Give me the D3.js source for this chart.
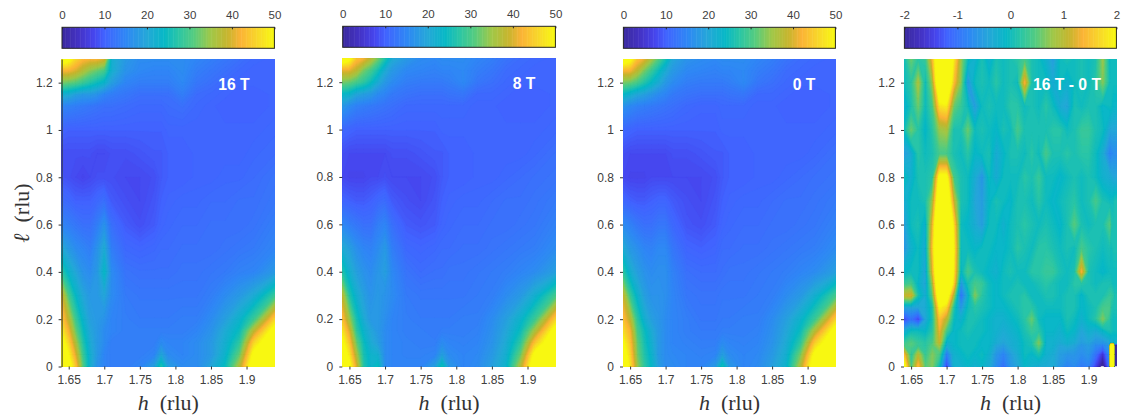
<!DOCTYPE html>
<html>
<head>
<meta charset="utf-8">
<script src="https://cdn.jsdelivr.net/npm/d3@7"></script>
<style>
  body { margin: 0; background: #fff; }
  svg { display: block; }
  text { font-family: "Liberation Sans", Arial, sans-serif; }
  .tick text { font-size: 12px; fill: #404040; }
  .cb .tick text { font-size: 11.5px; }
  .axlabel { font-family: "Liberation Serif", serif; font-size: 22px; fill: #333; }
  .field { font-size: 15.7px; font-weight: bold; fill: #fff; }
</style>
</head>
<body>
<div id="chart"></div>
<script>
const hTicks = [1.65, 1.7, 1.75, 1.8, 1.85, 1.9];
const lTicks = [0, 0.2, 0.4, 0.6, 0.8, 1, 1.2];
const cbTicks = [0, 10, 20, 30, 40, 50];
const cbDiffTicks = [-2, -1, 0, 1, 2];

// measurement grid of the three field maps
const hGrid = [1.64, 1.65, 1.66, 1.67, 1.68, 1.69, 1.7, 1.71, 1.73, 1.75, 1.77, 1.78, 1.79, 1.81, 1.83, 1.85, 1.87, 1.89, 1.91, 1.94];
const lGrid = [0, 0.05, 0.1, 0.15, 0.2, 0.3, 0.4, 0.5, 0.6, 0.7, 0.8, 0.9, 1, 1.1, 1.15, 1.2, 1.25, 1.3];

// rows go from l = 0 up to l = 1.3
const map16T = [
  [58,54,44,31,22,17,15,14,14,15,19,27,19,16,16,20,25,37,56,60],
  [56,50,40,29,22,18,15,14,14,14,15,20,16,15,16,18,23,32,52,60],
  [53,46,36,27,21,18,16,14,14,14,14,16,15,15,16,18,22,28,46,58],
  [49,42,32,25,20,18,16,15,14,14,14,14,14,14,15,17,21,25,38,54],
  [45,38,29,23,19,18,17,15,14,13.5,13.5,13.5,13.5,14,14,16,19,23,29,46],
  [40,30,24,20,18,18,20,16,13.5,13,13,13,13,13,13,14,16,18,21,29],
  [28,23,20,17,16,18,24,16,12.5,12,12,12,12,12.5,12.5,13,13.5,14.5,15,18],
  [21,18,16,15,14,17,21,14,11,10.5,11,11.5,11.5,12,12,12,12.5,13,13.5,15],
  [15,14,13,12,12,14,17,12,9.5,8.5,9.5,10.5,11,11.5,11.5,12,12,12,12.5,14],
  [11.5,11,10,10,10,11,12,9.5,8.5,8,9,10,10.5,11,11,11.5,11.5,12,12,13],
  [9,8.5,8,7.5,8,8.5,8.5,8.5,8,8,8.5,9.5,10,10,10.5,10.5,11,11,11.5,12.5],
  [8.5,8.5,8.5,8.5,8.5,8,8,8.5,8.5,9,9.5,9.5,10,10,10.5,10.5,10.5,10.5,11,11.5],
  [10.5,10,10,10,10,10,10,10,10,10,10,10,10.5,10.5,10.5,10.5,10.5,10.5,10.5,11],
  [15,14.5,14,13.5,13,12.5,12,12,11.5,11,11,11,11.5,12,11,10.5,10,10,10,10.5],
  [22,21,19,18,18,17,15,14,13,12,12,12,12,14,11.5,11,10.5,10,10,10.5],
  [33,32,31,29,27,25,23,19,15,14,14,14,14,15.5,13,12,11,10.5,10.5,10.5],
  [42,42,40,37,34,32,30,22,17,15.5,15,15,15,16,14,13,12,11,10.5,10.5],
  [56,52,46,43,42,42,40,22,18,16,16,16,16,16,15,14,13,12,11,10.5]
];

const map8T = [
  [58,52,40,27,23,25,16,15,15,15,19,26,18,15,16,19,23,37,56,60],
  [55,48,36,26,23,22,16,15,14.5,14.5,15,19,16,15,15.5,18,22,32,52,60],
  [52,44,32,25,21,19,16,15,14.5,14,14,16,15,14.5,15,17,21,28,44,58],
  [48,40,28,23,20,18,16,15,14,14,13.5,14,14,14,14.5,16.5,20,25,36,54],
  [44,35,26,21,18,18,16.5,15,14,13.5,13.5,13.5,13.5,14,14,16,19,23,29,46],
  [38,27,22,19,17,18,17,16,13.5,13,13,13,13,13,13.5,14,16,18,22,30],
  [27,22,19,17,16,17.5,19,15.5,12.5,11.5,12,12,12.5,12.5,13,13.5,14,15,16,19],
  [21,19,16.5,15,14.5,16,18,14,11,10.5,11,11.5,11.5,12,12,12.5,13,13.5,14,16],
  [15.5,14,13,12,12,14,15,12,9.5,9,9.5,10.5,11,11.5,11.5,12,12,12.5,13,14.5],
  [10.5,10,9.5,9.5,10,11,11.5,9.5,8.5,8,9,10,10.5,11,11,11.5,12,12,12.5,13.5],
  [8,7.5,7.5,7.5,8,8,8.5,8,8,8,8.5,9.5,10,10,10.5,10.5,11,11.5,12,12.5],
  [8.5,8,8,8,8,8,8,8.5,8.5,9,9.5,9.5,10,10,10.5,10.5,10.5,10.5,11,12],
  [11,10.5,10,10,10,10,10,10,10,10,10,10.5,10.5,10.5,10.5,10.5,10.5,10.5,10.5,11],
  [18,16,14.5,14,13.5,13,12.5,12,11,11,11,11,11,11,10.5,10.5,10,10,10,10.5],
  [24,23,20,19,18,16,15,13.5,12.5,12,12,12,12.5,13,11,11,10.5,10,10,10.5],
  [33,32,30,28,25,21,18,16,14,13.5,13.5,13.5,14,15.5,13,12,11,10.5,10.5,10.5],
  [41,41,38,33,30,26,21,18,15.5,15,14.5,15,15,15.5,14,13,11.5,11,10.5,10.5],
  [56,52,44,42,38,33,27,21,18,16,15.5,16,16,16,15,14,12.5,11.5,11,10.5]
];

const map0T = [
  [58,48,35,28,24,19,16,16,15,15,18,26,18,15,16,19,23,37,56,60],
  [55,46,33,27,23,18,16,15.5,15,14.5,15,19,16,15,15.5,18,22,33,52,60],
  [51,44,32,26,22,18,16,15,14.5,14,14,16,15,14.5,15,17,21,28,45,58],
  [47,42,30,25,21,18,16,15,14,13.5,13.5,14,14,14,14.5,16.5,20,25,37,54],
  [44,38,28,22,19,17.5,16,15,14,13,13,13.5,13.5,14,14,16,19,23,29,46],
  [39,29,23,19,17,17,16.5,15,13,12.5,12.5,13,13,13,13.5,14,16,18,22,30],
  [28,22,19,17,16,16.5,16.5,14.5,12,11.5,11.5,12,12.5,12.5,13,13.5,14,15,16,19],
  [21,18,16.5,15,14.5,15.5,15.5,13,10.5,10,10.5,11.5,11.5,12,12,12.5,13,13.5,14,16],
  [16,14.5,13,12,12,13,13,11,9,8.5,9.5,10.5,11,11.5,11.5,12,12,12.5,13,14.5],
  [11,10,9.5,9.5,10,10.5,10.5,9.5,8.5,8,9,10,10.5,11,11,11.5,12,12,12.5,13.5],
  [8,7.5,7.5,7.5,8,8,8,8,8,8,8.5,9.5,10,10,10.5,10.5,11,11.5,12,12.5],
  [8.5,8,8,8,8,8,8,8.5,8.5,9,9.5,9.5,10,10,10.5,10.5,10.5,10.5,11,12],
  [11,10.5,10,10,10,10,10,10,10,10,10,10.5,10.5,10.5,10.5,10.5,10.5,10.5,10.5,11],
  [17,15.5,14.5,14,13.5,13,12.5,12,11,10.5,10.5,11,11,11,10.5,10.5,10,10,10,10.5],
  [24,22,20,19,17.5,16,15,13.5,12.5,12,12,12,12.5,13,11,11,10.5,10,10,10.5],
  [33,32,30,27,24,21,18,16,14,13.5,13.5,13.5,14,15.5,13,12,11,10.5,10.5,10.5],
  [42,42,38,33,29,25,21,18,15.5,15,14.5,15,15,15.5,14,13,11.5,11,10.5,10.5],
  [56,52,44,41,36,31,26,20,17,16,15.5,16,16,16,15,14,12.5,11.5,11,10.5]
];

// difference map has a finer h grid and a sharp artefact at the right edge
const hGridDiff = [1.64,1.65,1.66,1.67,1.68,1.69,1.7,1.71,1.72,1.73,1.74,1.75,1.76,1.77,1.78,1.79,1.8,1.81,1.82,1.83,1.84,1.85,1.86,1.87,1.88,1.89,1.9,1.91,1.92,1.93,1.931,1.935,1.936,1.94];
const lGridDiff = [0, 0.05, 0.09, 0.1, 0.15, 0.2, 0.25, 0.3, 0.35, 0.4, 0.5, 0.6, 0.7, 0.8, 0.9, 1, 1.1, 1.2, 1.3];

const mapDiff = [
  [2.4,.4,1.5,.5,.7,0,-1.4,-.2,-.2,-.1, -.2,-.1,-.3,-.7,-1,-.6,-.4,-.1,-.2,-.3, -.3,-.3,-.6,-.8,-.7,-.9,-.8,-1.4,-2.2,-.8, 2.6,2.6,-2.6,-2.6],
  [1.5,.2,1,.3,.7,.4,-.9,-.2,-.1,0, -.1,0,-.2,-.6,-.8,-.5,-.3,0,-.1,.1, -.2,-.3,-.5,-.6,-.6,-.7,-.6,-1,-1.6,-.6, 2.6,2.6,-2.6,-2.6],
  [.4,.5,.3,.2,.5,.9,-.3,-.1,0,0, 0,-.1,-.1,-.4,-.5,-.3,-.2,0,.1,.6, -.2,-.2,-.4,-.3,-.4,-.6,-.5,-.7,-.8,-.5, 2.6,2.6,-2.6,-2.6],
  [.3,.5,.3,.2,.4,1.1,-.2,-.1,0,0, 0,-.1,-.1,-.3,-.4,-.3,-.2,0,.1,.7, -.2,-.2,-.3,-.2,-.3,-.5,-.4,-.6,-.6,-.4, -.3,-.2,-.2,-.2],
  [-.3,0,0,-.1,.2,1.3,.4,-.1,0,.1, 0,0,-.1,-.2,-.3,-.2,-.1,.1,.3,.2, -.1,-.1,-.2,0,-.1,-.4,-.2,-.3,-.1,.1, .1,0,0,0],
  [-1.4,-1,-1.4,-.4,.1,1.5,1,0,-.2,.1, .1,0,-.1,-.2,-.2,-.1,0,.2,.6,0, -.1,-.1,-.1,.1,0,-.2,0,.2,.7,.2, .1,0,0,0],
  [-.4,-.4,-.4,-.3,.1,2,1.7,.2,-.6,0, .2,.1,0,-.1,-.1,0,.1,.2,.2,0, 0,0,0,.1,.1,-.1,0,.1,.4,.4, .2,.1,.1,.1],
  [1.1,1.2,.1,-.3,.5,2.7,2.5,.9,-1,-.2, .7,.2,0,-.1,0,.1,.1,.2,0,0, .1,.1,0,.1,.1,-.1,.1,.1,.1,.3, .3,.2,.1,.1],
  [.3,.4,-.1,-.4,.8,3.2,3.2,1.7,-.6,.1, .4,.3,0,-.1,0,0,.1,0,0,.1, .2,.1,0,0,.2,.2,.1,0,.1,.1, .1,0,0,0],
  [-.1,0,0,-.4,1.2,3.4,3.4,1.9,-.1,.4, .1,0,-.1,-.2,0,.1,0,0,.2,.2, .3,.3,.1,0,.1,1.4,.1,0,-.1,0, 0,0,0,0],
  [-.6,-.2,0,-.3,1.5,3.6,3.6,2,0,0, -.1,0,0,-.1,-.1,0,.2,.1,0,.2, .2,.1,0,.1,0,.4,.2,.1,0,.1, 0,.1,.1,.1],
  [-.5,0,.1,-.2,1.3,3.4,3.4,1.8,0,-.1, -.3,-.5,0,0,-.2,0,.1,.2,.1,0, .1,0,-.1,.1,.5,.1,0,.1,.1,.5, .2,.1,.1,.1],
  [-.3,0,0,.1,.8,2.8,2.8,1.1,.1,0, -.4,-.5,-.1,.1,0,-.1,.1,.1,0,.2, 0,-.1,0,.1,.2,0,.1,.4,.1,0, 0,0,.1,.1],
  [0,-.2,.1,.1,.2,2.2,2.2,.4,.1,0, -.3,-.6,0,-.3,0,0,0,.2,.1,.3, 0,0,-.1,0,.1,0,.1,0,-.2,-.3, -.3,-.4,-.4,-.4],
  [-.5,-.3,.2,0,.1,.4,.4,.1,0,.2, -.1,0,.1,-.3,-.1,.1,.1,0,.2,0, .4,.1,.1,.2,.1,.2,.2,0,-.3,-.8, -.8,-.7,-.7,-.7],
  [0,.6,.2,-.1,.2,.8,.9,.1,.1,.6, 0,.1,0,-.1,.1,0,.4,.1,.1,.1, .1,.2,.2,0,.1,.3,.3,.1,0,-.4, -.4,-.4,-.4,-.4],
  [-.2,.1,.6,0,.4,1.8,1.9,.6,.3,0, -.5,0,.1,0,0,.2,.2,0,.1,0, .2,0,-.3,-.4,.1,0,.1,.1,-.1,0, 0,-.1,-.1,-.1],
  [0,.2,.9,0,.8,3,3,1.5,.7,-.6, 0,.1,0,.2,0,.1,0,1.4,.1,0, 0,-.3,0,-.2,0,.1,0,.2,.7,0, 0,0,0,0],
  [0,.6,.2,.3,1.4,3,3,1.9,.8,0, -.2,.1,-.2,.1,0,.1,.2,.4,.1,0, -.2,-.5,0,.1,0,.1,0,.1,.8,-.1, 0,0,0,0]
];

const panels = [
  { name: "16 T", left: 61.6, right: 275, top: 59, bottom: 366.5, cbTop: 27.3, labelX: 234, labelY: 84, min: 0, max: 50, ticks: cbTicks, hs: hGrid, ls: lGrid, z: map16T },
  { name: "8 T", left: 342.3, right: 556, top: 58.5, bottom: 366.5, cbTop: 26.3, labelX: 524, labelY: 83, min: 0, max: 50, ticks: cbTicks, hs: hGrid, ls: lGrid, z: map8T },
  { name: "0 T", left: 623, right: 836, top: 59, bottom: 366.5, cbTop: 27.3, labelX: 804, labelY: 84, min: 0, max: 50, ticks: cbTicks, hs: hGrid, ls: lGrid, z: map0T },
  { name: "16 T - 0 T", left: 904, right: 1117, top: 59, bottom: 366.5, cbTop: 27.3, labelX: 1067, labelY: 84, min: -2, max: 2, ticks: cbDiffTicks, hs: hGridDiff, ls: lGridDiff, z: mapDiff }
];

// colormap
const cmapStops = [0, 0.08, 0.15, 0.2, 0.3, 0.4, 0.48, 0.55, 0.62, 0.7, 0.78, 0.84, 0.92, 1];
const cmapColors = ["#3b2a9e", "#4433c6", "#4646ee", "#4163ff", "#2f87f5", "#25a8d8", "#07b8c6", "#2cc6a5", "#55cc80", "#a0c848", "#c8b52e", "#fbb336", "#f8d82a", "#f8fa10"];
const levels = 128;

const svg = d3.select("#chart").append("svg").attr("width", 1123).attr("height", 419);
const defs = svg.append("defs");

panels.forEach((p, pi) => {
  const x = d3.scaleLinear().domain([1.64, 1.94]).range([p.left, p.right]);
  const y = d3.scaleLinear().domain([0, 1.3]).range([p.bottom, p.top]);
  const tScale = d3.scaleLinear().domain(cmapStops.map(s => p.min + s * (p.max - p.min))).range(cmapColors).clamp(true);

  // contour grid cell centres sit on i + 0.5
  const gx = d3.scaleLinear().domain(p.hs.map((_, i) => i + 0.5)).range(p.hs);
  const gy = d3.scaleLinear().domain(p.ls.map((_, i) => i + 0.5)).range(p.ls);
  const nx = p.hs.length, ny = p.ls.length;
  const thresholds = d3.range(levels).map(i => p.min + (i + 0.5) * (p.max - p.min) / levels);
  const contours = d3.contours().size([nx, ny]).thresholds(thresholds)(p.z.flat());
  const path = d3.geoPath(d3.geoTransform({
    point(a, b) { this.stream.point(x(gx(a)), y(gy(b))); }
  }));

  defs.append("clipPath").attr("id", `clip${pi}`).append("rect")
    .attr("x", p.left).attr("y", p.top)
    .attr("width", p.right - p.left).attr("height", p.bottom - p.top);

  const plot = svg.append("g").attr("clip-path", `url(#clip${pi})`);
  plot.append("rect")
    .attr("x", p.left).attr("y", p.top)
    .attr("width", p.right - p.left).attr("height", p.bottom - p.top)
    .attr("fill", tScale(p.min));
  plot.selectAll("path")
    .data(contours)
    .join("path")
    .attr("d", path)
    .attr("fill", d => tScale(d.value))
    .attr("stroke", d => tScale(d.value))
    .attr("stroke-width", 0.3);

  // axes
  const xAxis = svg.append("g").attr("transform", `translate(0,${p.bottom})`)
    .call(d3.axisBottom(x).tickValues(hTicks).tickFormat(d => String(d)).tickSizeInner(3).tickSizeOuter(0).tickPadding(6));
  xAxis.select(".domain").remove();
  xAxis.selectAll(".tick line").attr("stroke", "#333");

  const yAxis = svg.append("g").attr("transform", `translate(${p.left},0)`)
    .call(d3.axisLeft(y).tickValues(lTicks).tickFormat(d => String(d)).tickSizeInner(3).tickSizeOuter(0).tickPadding(6));
  yAxis.select(".domain").attr("stroke", "#333").attr("stroke-opacity", pi === 0 ? 1 : 0);
  yAxis.selectAll(".tick line").attr("stroke", "#333");

  svg.append("text").attr("class", "axlabel")
    .attr("x", (p.left + p.right) / 2).attr("y", 410)
    .attr("text-anchor", "middle")
    .html('<tspan font-style="italic">h</tspan>&#160;&#160;(rlu)');

  svg.append("text").attr("class", "field")
    .attr("x", p.labelX).attr("y", p.labelY + 5.5)
    .attr("text-anchor", "middle")
    .text(p.name);

  // colour bar
  const cbH = 21;
  const cbX = d3.scaleLinear().domain([p.min, p.max]).range([p.left + 0.4, p.right - 0.6]);
  const cb = svg.append("g").attr("class", "cb");
  const step = (p.max - p.min) / levels;
  cb.selectAll("rect.level")
    .data(d3.range(levels).map(i => p.min + i * step))
    .join("rect")
    .attr("class", "level")
    .attr("x", d => cbX(d))
    .attr("y", p.cbTop)
    .attr("width", d => cbX(d + step) - cbX(d) + 0.5)
    .attr("height", cbH)
    .attr("fill", d => tScale(d + step / 2));
  cb.append("rect")
    .attr("x", cbX.range()[0]).attr("y", p.cbTop)
    .attr("width", cbX.range()[1] - cbX.range()[0]).attr("height", cbH)
    .attr("fill", "none").attr("stroke", "#262626");
  const cbAxis = cb.append("g").attr("transform", `translate(0,${p.cbTop})`)
    .call(d3.axisTop(cbX).tickValues(p.ticks).tickFormat(d => String(d)).tickSizeInner(-2).tickSizeOuter(0).tickPadding(8));
  cbAxis.select(".domain").remove();
  cbAxis.selectAll(".tick line").attr("stroke", "#262626");
});

svg.append("text").attr("class", "axlabel")
  .attr("transform", "translate(29,213) rotate(-90)")
  .attr("text-anchor", "middle")
  .html('<tspan font-style="italic">&#8467;</tspan>&#160;&#160;(rlu)');
</script>
</body>
</html>
